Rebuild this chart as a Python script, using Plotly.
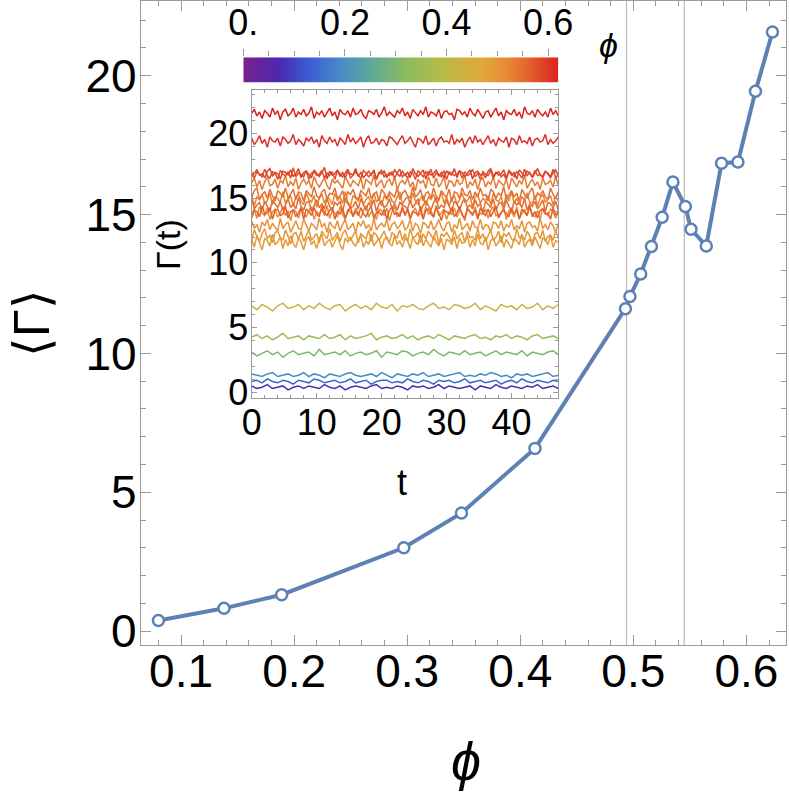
import plotly.graph_objects as go

# ---------------- data ----------------
phi = [0.080, 0.138, 0.189, 0.297, 0.348, 0.413, 0.493, 0.497, 0.5065, 0.516,
       0.5255, 0.535, 0.546, 0.551, 0.5645, 0.578, 0.5925, 0.608, 0.623]
gamma_mean = [0.38, 0.82, 1.31, 3.0, 4.25, 6.58, 11.61, 12.05, 12.86, 13.85,
              14.9, 16.17, 15.29, 14.47, 13.87, 16.85, 16.89, 19.44, 21.57]
phi_lines = [0.494, 0.545]

x_ticks = [0.1, 0.2, 0.3, 0.4, 0.5, 0.6]
y_ticks = [0, 5, 10, 15, 20]
inset_x_ticks = [0, 10, 20, 30, 40]
inset_y_ticks = [0, 5, 10, 15, 20]
cbar_ticks = [0.0, 0.2, 0.4, 0.6]
cbar_labels = ["0.", "0.2", "0.4", "0.6"]

# sampling times of the inset traces (coarse for quiet series, fine for noisy ones)
t_coarse = [0, 0.8, 1.6, 2.4, 3.2, 4, 4.8, 5.6, 6.4, 7.2, 8, 8.8, 9.6, 10.4, 11.2,
            12, 12.8, 13.6, 14.4, 15.2, 16, 16.8, 17.6, 18.4, 19.2, 20, 20.8, 21.6,
            22.4, 23.2, 24, 24.8, 25.6, 26.4, 27.2, 28, 28.8, 29.6, 30.4, 31.2, 32,
            32.8, 33.6, 34.4, 35.2, 36, 36.8, 37.6, 38.4, 39.2, 40, 40.8, 41.6, 42.4,
            43.2, 44, 44.8, 45.6, 46.4, 47.2]
t_fine = [0, 0.4, 0.8, 1.2, 1.6, 2, 2.4, 2.8, 3.2, 3.6, 4, 4.4, 4.8, 5.2, 5.6, 6, 6.4,
          6.8, 7.2, 7.6, 8, 8.4, 8.8, 9.2, 9.6, 10, 10.4, 10.8, 11.2, 11.6, 12, 12.4,
          12.8, 13.2, 13.6, 14, 14.4, 14.8, 15.2, 15.6, 16, 16.4, 16.8, 17.2, 17.6, 18,
          18.4, 18.8, 19.2, 19.6, 20, 20.4, 20.8, 21.2, 21.6, 22, 22.4, 22.8, 23.2,
          23.6, 24, 24.4, 24.8, 25.2, 25.6, 26, 26.4, 26.8, 27.2, 27.6, 28, 28.4, 28.8,
          29.2, 29.6, 30, 30.4, 30.8, 31.2, 31.6, 32, 32.4, 32.8, 33.2, 33.6, 34, 34.4,
          34.8, 35.2, 35.6, 36, 36.4, 36.8, 37.2, 37.6, 38, 38.4, 38.8, 39.2, 39.6, 40,
          40.4, 40.8, 41.2, 41.6, 42, 42.4, 42.8, 43.2, 43.6, 44, 44.4, 44.8, 45.2,
          45.6, 46, 46.4, 46.8, 47.2]

# fluctuations of Gamma(t) about its mean, in tenths (read approximately)
fluct = [
    [1,-1,0,2,-1,0,1,-2,0,1,-1,1,0,-1,2,0,-1,1,-2,0,1,0,-1,1,2,-1,0,-1,1,0,-2,1,0,1,-1,0,2,-1,1,0,-1,0,1,-2,1,0,-1,2,0,-1,1,0,-1,1,0,2,-1,0,1,-1],
    [0,1,-1,2,0,-1,1,0,-2,1,0,-1,2,1,-1,0,1,-1,0,2,-1,0,1,-2,0,1,1,-1,0,-1,2,0,-1,1,0,-2,1,0,1,-1,0,2,-1,0,1,-1,0,1,-2,0,1,-1,2,0,-1,1,0,-1,1,0],
    [1,0,-1,1,2,-1,0,1,-1,0,2,-1,1,0,-2,1,0,-1,1,2,0,-1,0,1,-1,2,0,-2,1,0,-1,1,0,2,-1,0,1,-1,0,1,2,-1,0,-1,1,0,2,1,-1,0,-2,1,0,1,-1,0,1,2,-1,0],
    [1,-2,0,2,-1,1,-3,0,2,-1,0,1,-2,3,-1,0,1,-1,2,-2,0,1,-1,0,2,-3,1,0,-1,2,1,-2,0,1,-1,3,0,-2,1,0,-1,2,-1,0,1,-2,0,2,-1,1,0,-1,2,-2,1,0,-1,1,2,-1],
    [0,2,-1,1,-2,0,3,-1,0,1,-2,1,0,-1,2,-1,0,2,-2,1,-1,0,1,3,-2,0,1,-1,0,2,-1,1,-2,0,1,-1,2,0,-2,1,0,-1,1,2,-1,0,-2,1,0,2,-1,1,0,-2,1,2,-1,0,1,-1],
    [1,-2,2,0,-3,1,3,-1,0,2,-2,1,-1,3,0,-2,1,2,-3,0,2,-1,1,-2,3,0,-1,2,-3,1,0,2,-1,-2,1,3,-1,0,-2,2,1,-1,0,3,-2,1,-1,-3,2,0,1,-2,2,-1,0,3,-2,1,-1,2],
    [2,-4,5,-1,-6,3,1,-3,6,-2,0,4,-5,2,-3,5,-1,-4,3,0,-6,2,4,-2,1,-5,3,6,-3,0,2,-4,1,5,-2,-6,3,0,4,-1,-3,2,5,-4,1,-2,6,-3,0,3,-5,2,4,-1,-3,5,-2,1,-4,3,1,-5,4,0,-2,6,-3,2,-1,-4,5,0,-3,3,-6,2,1,-2,4,-5,3,-1,0,5,-4,2,-3,6,-1,-2,4,-6,1,3,-3,0,5,-4,2,-1,-5,3,1,-2,6,-4,0,2,-3,4,-1,-5,3,2,-2,5,-4,1,0],
    [-3,5,0,-4,2,6,-2,1,-5,3,4,-1,-3,5,0,-6,2,3,-2,4,-4,1,5,-3,0,2,-5,4,1,-2,6,-3,0,3,-4,2,5,-1,-3,1,4,-5,2,0,-2,5,-4,3,1,-3,0,4,-2,-5,3,1,-1,5,-3,2,-4,6,-1,0,3,-5,2,-2,4,1,-3,5,-6,2,0,3,-1,-4,5,-2,1,3,-5,4,-1,0,-3,6,-2,2,-4,1,5,-3,-1,4,-5,2,0,3,-2,-4,6,-1,1,-3,4,0,-5,2,3,-2,5,-4,0,1,-3,4,-1],
    [4,-2,1,-5,3,0,5,-3,2,-1,-4,6,-2,1,3,-5,0,4,-2,-3,5,1,-4,2,0,-3,6,-1,2,-5,3,0,-2,4,-4,1,5,-3,-1,2,-5,3,0,4,-2,1,-4,6,-3,0,2,-1,5,-4,1,3,-2,0,4,-3,-1,5,-4,2,0,-6,3,1,-2,4,-3,0,5,-1,-4,2,3,-5,1,-2,6,-3,0,2,-4,4,-1,-2,5,-3,1,0,-5,3,2,-2,4,-4,1,-1,5,-3,0,-2,4,-5,2,3,-1,0,-4,6,-2,1,-3,3,0,-5,2],
    [-1,3,-4,5,0,-2,4,-5,1,3,-3,0,5,-2,2,-6,3,1,-4,4,0,-3,2,5,-5,1,-1,3,-2,6,-4,2,0,-3,5,-1,-5,3,1,-2,4,0,-4,2,6,-3,1,-1,-5,3,2,-2,4,-6,1,5,-3,0,2,-1,3,-5,1,4,-2,0,-4,5,-1,2,-3,6,-2,0,3,-5,1,-1,4,-3,2,0,-6,4,1,-2,5,-3,0,-1,3,-4,2,5,-2,-1,0,4,-5,2,1,-3,5,-4,0,3,-2,6,-1,-3,2,-5,4,0,-2,3,1,-4,2],
    [3,-5,2,0,4,-3,-1,5,-4,2,1,-2,6,-3,0,3,-5,2,4,-1,-4,5,0,-2,3,-6,1,4,-3,2,0,-4,5,-1,2,-3,6,-2,-5,3,1,-1,4,-4,0,2,-3,5,-2,1,-5,3,0,4,-1,-3,2,6,-4,0,2,-3,5,-1,-4,1,3,-5,2,0,4,-2,-1,6,-3,2,-5,1,3,-4,0,5,-2,-1,3,-6,2,4,-3,1,-1,3,-4,5,0,-2,2,-5,4,-1,6,-3,1,-4,2,0,5,-2,-3,3,-5,1,4,-2,0,3,-4,2,-1],
    [0,4,-3,2,-5,1,5,-2,-1,3,-4,2,0,6,-3,1,-2,4,-5,0,3,-1,2,-4,5,0,-3,1,4,-2,-5,3,0,2,-1,-4,5,1,-3,2,0,-2,4,-5,3,1,-1,6,-3,0,2,-4,1,3,-2,5,-5,0,2,-1,4,-3,1,-6,3,0,2,-4,5,-1,-2,4,-3,0,5,-5,2,1,-3,3,-1,0,6,-4,1,-2,3,-5,2,4,-3,1,-1,5,-4,2,0,-2,3,-5,4,1,-3,2,-1,6,-4,0,3,-2,1,-5,4,-1,0,2,-3,5,-2],
    [-2,3,5,-4,0,2,-3,4,-1,-5,3,1,-2,5,-3,0,4,-4,2,1,-5,3,0,-2,6,-1,-3,2,4,-4,1,0,5,-3,-1,3,-5,2,0,4,-2,-4,3,1,-1,5,-3,0,2,-5,4,1,-3,2,0,-2,5,-4,1,3,-1,-3,6,-2,0,4,-5,1,2,-3,5,-1,-4,3,0,-2,4,-6,2,1,-3,5,0,-1,3,-4,2,-2,5,-1,0,-5,4,2,-3,1,-1,6,-4,0,3,-2,1,-5,4,0,-3,2,5,-4,1,-1,3,-2,-4,5,0,-3,2],
    [5,-3,0,2,-4,3,-1,-5,4,1,-2,3,-4,0,5,-2,1,-3,6,-1,-4,2,3,-5,0,4,-2,1,-3,5,-1,-4,2,0,3,-5,4,1,-2,-1,3,-3,5,0,-4,2,-1,4,-5,1,3,-2,0,5,-3,1,-4,2,0,-1,-3,4,-2,1,5,-5,0,3,-1,-4,2,6,-3,0,-2,4,-1,-5,3,1,-4,2,5,-2,0,-3,4,-1,1,-6,3,0,-2,5,-4,1,2,-3,4,-1,-5,3,0,2,-2,5,-4,1,-1,3,-3,0,4,-5,2,1,-2,3,-4],
    [-4,2,1,-3,5,-1,0,4,-5,2,3,-2,-1,5,-4,1,2,-3,0,4,-5,3,1,-2,4,-1,-3,5,0,-2,2,4,-5,1,-1,3,-4,0,5,-3,1,-2,4,-1,-3,2,5,-4,0,1,-2,3,-5,2,4,-1,0,-3,5,-2,3,-4,1,0,-2,5,-5,2,3,-1,-3,4,0,-6,2,1,-1,4,-3,0,5,-2,-4,3,1,-1,2,-5,4,0,-2,3,-3,1,5,-4,0,2,-1,-3,4,-1,2,-5,3,0,-2,5,-3,1,-4,2,3,-1,0,-5,4,-2,1],
    [1,-3,2,0,-2,4,-1,-3,2,1,-4,3,0,-1,2,-3,5,-2,1,0,-2,3,-4,1,2,-1,0,3,-3,1,-1,2,-4,3,0,-2,1,4,-3,0,2,-1,-3,3,1,-2,0,2,-4,1,3,-2,0,-1,2,-3,1,4,-2,0,-3,2,1,-4,3,0,-2,2,-1,4,-3,1,0,-2,3,-4,2,1,-1,0,3,-3,2,-1,0,4,-2,1,-4,2,0,-1,3,-3,1,2,-2,0,-4,3,1,-2,2,0,-3,4,-1,1,-2,3,-1,0,-3,2,1,-2,4,-3,0],
    [-2,1,3,-1,0,-3,2,4,-2,1,0,-4,2,1,-1,3,-2,0,4,-3,1,2,-1,-3,3,0,-2,1,5,-4,2,-1,0,3,-2,1,-3,2,0,-1,4,-2,1,-3,0,2,-1,3,-4,1,0,2,-3,1,-1,3,0,-2,2,-1,1,-3,4,0,-2,1,3,-4,2,-1,0,3,-2,1,-3,2,0,-1,4,-3,2,1,-2,0,3,-4,1,2,-1,0,-3,2,4,-2,1,-1,0,3,-3,2,-1,1,-4,3,0,-2,2,1,-3,0,4,-1,-2,2,0,-3,1,3,-2],
    [2,-3,0,4,-2,1,-5,3,0,-1,2,-4,3,1,-2,0,5,-3,1,-1,-4,2,0,3,-2,1,-5,4,0,-2,3,-1,1,-4,2,0,-3,5,-1,2,-2,0,3,-5,1,4,-2,-1,2,-3,1,0,-4,3,2,-1,-3,1,4,-2,0,3,-1,-5,2,1,-2,4,-3,0,2,-4,1,3,-1,0,-2,5,-3,1,-1,2,-5,0,3,-2,4,-1,1,-3,0,4,-2,1,-4,2,0,-1,3,-5,2,1,-3,4,-1,0,-2,3,-4,1,2,-1,0,5,-3,1,-2,0,3],
    [0,3,-2,1,-4,2,0,-3,4,-1,2,-5,1,3,-2,0,4,-3,1,-1,3,-2,0,5,-4,1,-1,2,-3,0,4,-2,1,-5,3,0,-1,2,-3,4,-1,0,3,-2,-4,2,1,-1,3,-3,0,5,-2,1,-1,-3,2,0,4,-2,1,-4,3,0,-2,2,-1,5,-3,1,0,-2,3,-4,1,2,-1,0,-5,3,2,-1,1,-3,4,0,-2,3,-1,-4,1,2,-3,0,4,-2,1,-5,2,0,-1,3,-2,1,-4,5,0,-1,2,-3,3,0,-2,1,-3,4,-1,2,-2],
]

# ---------------- styling ----------------
W, H = 789, 792
L, R, T, B = 141, 786, 1, 645
FRAME = "#9a9a9a"
BLUE = "#5E81B5"
FONT = "Liberation Sans, Arial, sans-serif"
CMAX = 0.62
cmap = [(0.0, "#7b1f8e"), (0.116, "#4a28b0"), (0.21, "#3b5ed4"), (0.317, "#4a8ec4"),
        (0.413, "#60ab96"), (0.519, "#8dbb5e"), (0.635, "#b9bb48"), (0.751, "#dfaa3c"),
        (0.836, "#e98b35"), (0.92, "#e2592b"), (1.0, "#db2020")]


def px(x):
    return (x - L) / (R - L)


def py(y):
    return (B - y) / (B - T)


def hex2rgb(h):
    return tuple(int(h[i:i + 2], 16) for i in (1, 3, 5))


def color_of(v):
    f = min(max(v / CMAX, 0), 1)
    for (f0, c0), (f1, c1) in zip(cmap[:-1], cmap[1:]):
        if f <= f1:
            a = (f - f0) / (f1 - f0)
            r0, r1 = hex2rgb(c0), hex2rgb(c1)
            return "rgb(%d,%d,%d)" % tuple(round(r0[k] + a * (r1[k] - r0[k])) for k in range(3))
    return cmap[-1][1]


fig = go.Figure()

# inset time series
for p, m, d in zip(phi, gamma_mean, fluct):
    tt = t_coarse if len(d) <= len(t_coarse) else t_fine
    fig.add_trace(go.Scatter(
        x=tt[:len(d)], y=[m + 0.1 * v for v in d], mode="lines",
        line=dict(color=color_of(p), width=1.5), xaxis="x2", yaxis="y2",
        hoverinfo="skip"))

# main curve
fig.add_trace(go.Scatter(
    x=phi, y=gamma_mean, mode="lines+markers", xaxis="x", yaxis="y",
    line=dict(color=BLUE, width=4),
    marker=dict(symbol="circle", size=11, color="white",
                line=dict(color=BLUE, width=2.5))))

# colour bar as heatmap
NC = 124
cb_x = [(i + 0.5) * CMAX / NC for i in range(NC)]
fig.add_trace(go.Heatmap(
    x=cb_x, y=[0], z=[cb_x], zmin=0, zmax=CMAX,
    colorscale=[[f, c] for f, c in cmap], showscale=False,
    xaxis="x3", yaxis="y3", hoverinfo="skip"))

for xv in phi_lines:
    fig.add_shape(type="line", xref="x", yref="y domain", x0=xv, x1=xv, y0=0, y1=1,
                  line=dict(color="#bcbcbc", width=1.2), layer="below")

frame = dict(showline=True, linecolor=FRAME, linewidth=1.3, mirror="ticks",
             ticks="inside", tickcolor=FRAME, showgrid=False, zeroline=False,
             tickwidth=1, automargin=False)

fig.update_layout(
    width=W, height=H, margin=dict(l=L, r=W - R, t=T, b=H - B, pad=0,
                                   autoexpand=False),
    paper_bgcolor="white", plot_bgcolor="white", showlegend=False,
    font=dict(family=FONT, color="black"),
    xaxis=dict(frame, domain=[0, 1], anchor="y", range=[0.0646, 0.635],
               tickvals=x_ticks, ticktext=[str(v) for v in x_ticks], ticklen=10,
               tickfont=dict(size=46), ticklabelstandoff=-14,
               minor=dict(ticks="inside", tickvals=[0.06 + 0.02 * i for i in range(30)],
                          ticklen=5, tickcolor=FRAME, showgrid=False)),
    yaxis=dict(frame, domain=[0, 1], anchor="x", range=[-0.5, 22.69],
               tickvals=y_ticks, ticktext=[str(v) for v in y_ticks], ticklen=10,
               tickfont=dict(size=46), ticklabelstandoff=-6,
               minor=dict(ticks="inside", tickvals=list(range(0, 23)),
                          ticklen=5, tickcolor=FRAME, showgrid=False)),
    xaxis2=dict(frame, domain=[px(251.7), px(558.3)], anchor="y2", range=[0, 47.2],
                tickvals=inset_x_ticks, ticktext=[str(v) for v in inset_x_ticks],
                ticklen=5, tickfont=dict(size=36), ticklabelstandoff=-7,
                minor=dict(ticks="inside", tickvals=list(range(0, 48, 2)),
                           ticklen=3, tickcolor=FRAME, showgrid=False)),
    yaxis2=dict(frame, domain=[py(397.7), py(90)], anchor="x2", range=[-0.43, 23.37],
                tickvals=inset_y_ticks, ticktext=[str(v) for v in inset_y_ticks],
                ticklen=5, tickfont=dict(size=36), ticklabelstandoff=-5,
                minor=dict(ticks="inside", tickvals=list(range(0, 24)),
                           ticklen=3, tickcolor=FRAME, showgrid=False)),
    xaxis3=dict(domain=[px(243.3), px(558.3)], anchor="y3", range=[0, CMAX],
                side="top", ticks="outside", ticklen=7, tickcolor=FRAME,
                tickvals=cbar_ticks, ticktext=cbar_labels, showline=False,
                showgrid=False, zeroline=False, tickfont=dict(size=36),
                ticklabelstandoff=0, automargin=False,
                minor=dict(ticks="outside", tickvals=[0.05, 0.1, 0.15, 0.25, 0.3, 0.35,
                                                      0.45, 0.5, 0.55],
                           ticklen=5, tickcolor=FRAME, showgrid=False)),
    yaxis3=dict(domain=[py(82.7), py(57.3)], anchor="x3", range=[-0.5, 0.5],
                visible=False, automargin=False),
)

ann = [
    dict(text="⟨Γ⟩", x=px(32), y=py(323), textangle=-90, font=dict(size=50)),
    dict(text="<i>ϕ</i>", x=px(466), y=py(761), font=dict(size=54)),
    dict(text="<i>ϕ</i>", x=px(608), y=py(45), font=dict(size=34)),
    dict(text="Γ(t)", x=px(168), y=py(245), textangle=-90, font=dict(size=34)),
    dict(text="t", x=px(401.7), y=py(482), font=dict(size=36)),
]
for a in ann:
    fig.add_annotation(xref="paper", yref="paper", showarrow=False,
                       xanchor="center", yanchor="middle", **a)

# page body without the browser's default 8px margin; no mode bar
fig.write_html("out.html", config={"displayModeBar": False},
               post_script="document.body.style.margin='0';")
